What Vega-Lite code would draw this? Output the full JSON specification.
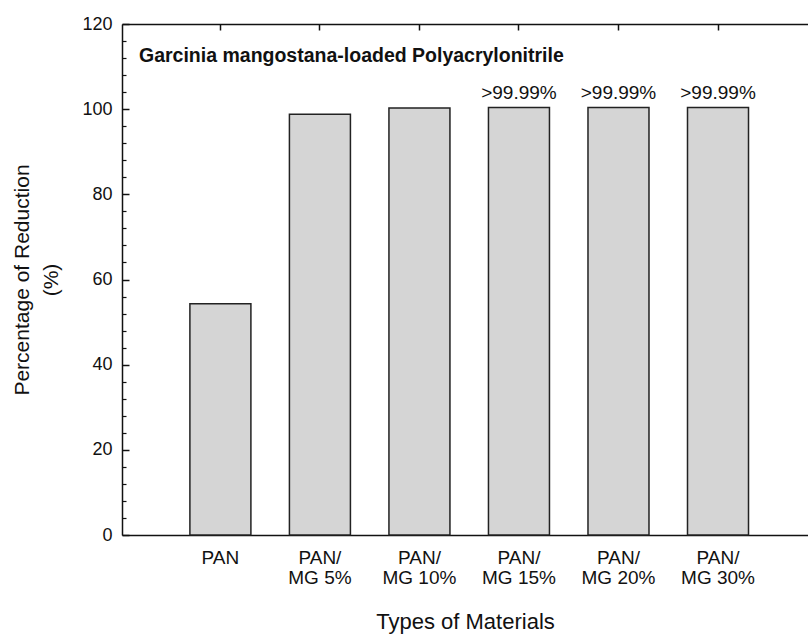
{
  "$schema": "https://vega.github.io/schema/vega-lite/v6.json",
  "width": 686,
  "height": 511,
  "autosize": {"type": "none"},
  "padding": {"left": 122, "top": 24, "right": 0, "bottom": 100},
  "background": "white",
  "config": {
    "font": "Liberation Sans",
    "view": {"stroke": null},
    "axis": {
      "domainColor": "#111",
      "tickColor": "#111",
      "labelColor": "#111",
      "titleColor": "#111",
      "grid": false,
      "labelFont": "Liberation Sans",
      "titleFont": "Liberation Sans",
      "titleFontWeight": "normal"
    }
  },
  "title": {
    "text": "Garcinia mangostana-loaded Polyacrylonitrile",
    "anchor": "start",
    "frame": "group",
    "offset": -66,
    "dx": 17,
    "fontSize": 19.5,
    "fontWeight": "bold",
    "font": "Liberation Sans",
    "baseline": "alphabetic",
    "color": "#111"
  },
  "data": {
    "values": [
      {"material": "PAN", "value": 54.3, "note": ""},
      {"material": "PAN/ MG 5%", "value": 98.8, "note": ""},
      {"material": "PAN/ MG 10%", "value": 100.3, "note": ""},
      {"material": "PAN/ MG 15%", "value": 100.4, "note": ">99.99%"},
      {"material": "PAN/ MG 20%", "value": 100.4, "note": ">99.99%"},
      {"material": "PAN/ MG 30%", "value": 100.4, "note": ">99.99%"}
    ]
  },
  "layer": [
    {
      "mark": {"type": "bar", "fill": "#d5d5d5", "stroke": "#222", "strokeWidth": 1.5},
      "encoding": {
        "x": {
          "field": "material",
          "type": "nominal",
          "sort": null,
          "scale": {"paddingInner": 0.387, "paddingOuter": 0.64, "align": 0.533},
          "axis": {
            "orient": "bottom",
            "ticks": false,
            "labelAngle": 0,
            "labelFontSize": 19,
            "labelPadding": 13,
            "labelLineHeight": 20,
            "labelExpr": "datum.value == 'PAN' ? 'PAN' : ['PAN/', slice(datum.value, 5)]",
            "title": "Types of Materials",
            "titleFontSize": 22,
            "titleY": 93,
            "titleBaseline": "alphabetic",
            "domainWidth": 1.5
          }
        },
        "y": {
          "field": "value",
          "type": "quantitative",
          "scale": {"domain": [0, 120], "nice": false},
          "axis": {
            "values": [0, 20, 40, 60, 80, 100, 120],
            "tickSize": -7,
            "tickWidth": 1.5,
            "labelPadding": 17,
            "labelFontSize": 18,
            "title": ["Percentage of Reduction", "(%)"],
            "titleFontSize": 21,
            "titleX": -94,
            "titleBaseline": "alphabetic",
            "titleLineHeight": 29,
            "domainWidth": 1.5
          }
        }
      }
    },
    {
      "mark": {"type": "text", "fontSize": 19, "baseline": "alphabetic", "dy": -8, "font": "Liberation Sans", "color": "#111"},
      "encoding": {
        "x": {
          "field": "material",
          "type": "nominal",
          "sort": null,
          "axis": {"orient": "top", "labels": false, "title": null, "tickSize": -6, "tickWidth": 1.5, "domainWidth": 1.5}
        },
        "y": {
          "field": "value",
          "type": "quantitative",
          "axis": {
            "orient": "left",
            "values": [4, 8, 12, 16, 24, 28, 32, 36, 44, 48, 52, 56, 64, 68, 72, 76, 84, 88, 92, 96, 104, 108, 112, 116],
            "tickSize": -4,
            "tickWidth": 1.2,
            "labels": false,
            "title": null,
            "domain": false
          }
        },
        "text": {"field": "note"}
      }
    }
  ],
  "resolve": {"axis": {"x": "independent", "y": "independent"}}
}
